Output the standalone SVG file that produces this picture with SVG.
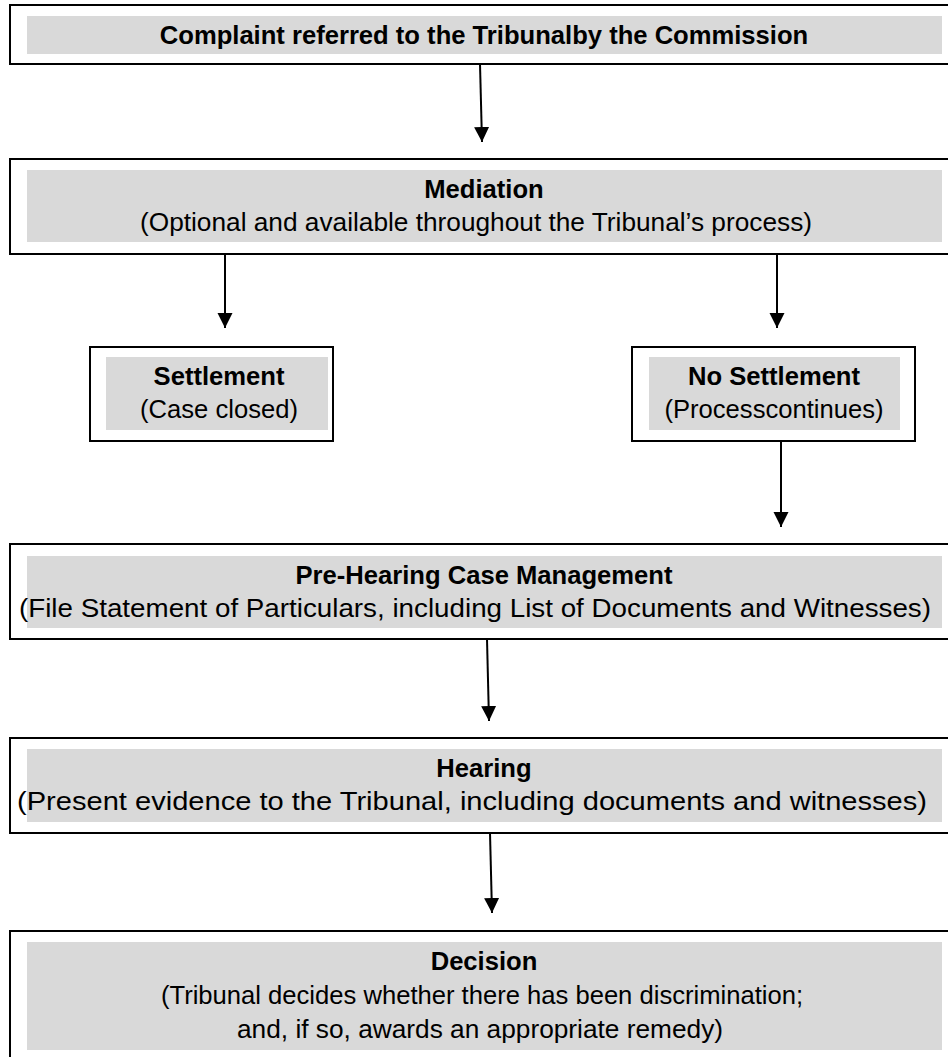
<svg xmlns="http://www.w3.org/2000/svg" width="948" height="1057" viewBox="0 0 948 1057">
<style>
.box{fill:#ffffff;stroke:#000000;stroke-width:2}
.band{fill:#d9d9d9}
.t{font-family:"Liberation Sans",Arial,sans-serif;font-size:25.6px;fill:#000000;text-anchor:middle}
.b{font-weight:bold}
.c{stroke:#000000;stroke-width:2;fill:none}
</style>
<defs>
<marker id="ah" markerUnits="userSpaceOnUse" markerWidth="16" markerHeight="16" refX="15" refY="7.5" orient="auto">
<path d="M0,0 L15,7.5 L0,15 Z" fill="#000000"/>
</marker>
</defs>
<rect width="948" height="1057" fill="#ffffff"/>
<g id="n-complaint">
<rect class="box" x="10" y="5" width="960" height="59"/>
<rect class="band" x="27" y="16" width="915" height="38"/>
<text class="t b" x="484" y="44">Complaint referred to the Tribunalby the Commission</text>
</g>
<g id="n-mediation">
<rect class="box" x="10" y="159" width="960" height="95"/>
<rect class="band" x="27" y="170" width="915" height="72"/>
<text class="t b" x="484" y="198">Mediation</text>
<text class="t" x="476" y="231" textLength="672" lengthAdjust="spacingAndGlyphs">(Optional and available throughout the Tribunal’s process)</text>
</g>
<g id="n-settlement">
<rect class="box" x="90" y="347" width="243" height="94"/>
<rect class="band" x="106" y="357" width="222" height="73"/>
<text class="t b" x="219" y="385">Settlement</text>
<text class="t" x="219" y="418">(Case closed)</text>
</g>
<g id="n-nosettlement">
<rect class="box" x="632" y="347" width="283" height="94"/>
<rect class="band" x="649" y="357" width="251" height="73"/>
<text class="t b" x="774" y="385">No Settlement</text>
<text class="t" x="774" y="418">(Processcontinues)</text>
</g>
<g id="n-prehearing">
<rect class="box" x="10" y="544" width="960" height="95"/>
<rect class="band" x="27" y="556" width="915" height="72"/>
<text class="t b" x="484" y="584">Pre-Hearing Case Management</text>
<text class="t" x="475" y="617" textLength="912" lengthAdjust="spacingAndGlyphs">(File Statement of Particulars, including List of Documents and Witnesses)</text>
</g>
<g id="n-hearing">
<rect class="box" x="10" y="738" width="960" height="95"/>
<rect class="band" x="27" y="749" width="915" height="73"/>
<text class="t b" x="484" y="777">Hearing</text>
<text class="t" x="472" y="810" textLength="910" lengthAdjust="spacingAndGlyphs">(Present evidence to the Tribunal, including documents and witnesses)</text>
</g>
<g id="n-decision">
<rect class="box" x="10" y="931" width="960" height="140"/>
<rect class="band" x="27" y="942" width="915" height="108"/>
<text class="t b" x="484" y="970">Decision</text>
<text class="t" x="482" y="1004">(Tribunal decides whether there has been discrimination;</text>
<text class="t" x="480" y="1038" textLength="486" lengthAdjust="spacingAndGlyphs">and, if so, awards an appropriate remedy)</text>
</g>
<g id="connectors">
<line class="c" x1="480" y1="64" x2="482" y2="142" marker-end="url(#ah)"/>
<line class="c" x1="225" y1="254" x2="225" y2="328" marker-end="url(#ah)"/>
<line class="c" x1="777" y1="254" x2="777" y2="328" marker-end="url(#ah)"/>
<line class="c" x1="781" y1="441" x2="781" y2="527" marker-end="url(#ah)"/>
<line class="c" x1="487" y1="639" x2="489" y2="721" marker-end="url(#ah)"/>
<line class="c" x1="490" y1="833" x2="492" y2="913" marker-end="url(#ah)"/>
</g>
</svg>
